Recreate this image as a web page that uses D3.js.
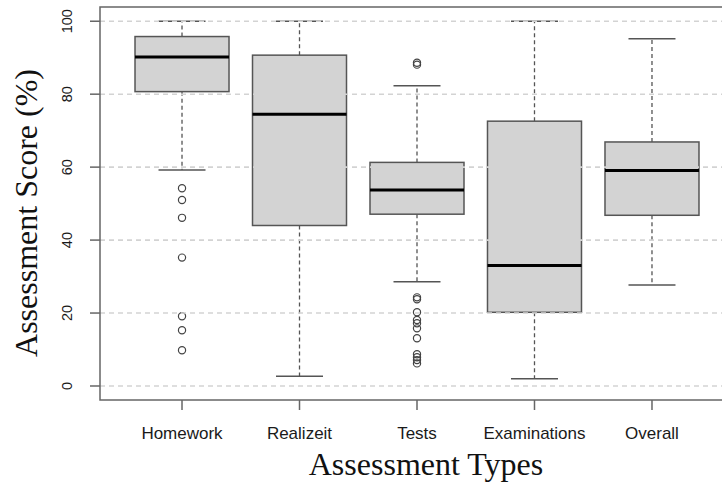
<!DOCTYPE html>
<html>
<head>
<meta charset="utf-8">
<script src="https://cdn.jsdelivr.net/npm/d3@7"></script>
<style>
  body { margin: 0; background: #fff; }
  svg { display: block; }
</style>
</head>
<body>
<div class="chart_box"></div>
<script>
//<data>------------------------------------//
var categories = ["Homework", "Realizeit", "Tests", "Examinations", "Overall"];
var lowerWhisker = [59.2, 2.7, 28.6, 2.0, 27.7];
var q1Values = [80.7, 44.0, 47.1, 20.2, 46.8];
var medianValues = [90.2, 74.5, 53.7, 33.0, 59.1];
var q3Values = [95.8, 90.7, 61.3, 72.6, 66.9];
var upperWhisker = [100, 100, 82.3, 100, 95.2];
var outlierValues = [
    [54.2, 51.0, 46.1, 35.2, 19.1, 15.3, 9.8],
    [],
    [88.1, 88.6, 24.3, 23.8, 20.2, 18.1, 17.2, 15.8, 13.1, 8.7, 7.9, 7.1, 6.2],
    [],
    []
];
var yTicks = [0, 20, 40, 60, 80, 100];

//<setMargin>-------------------------------//
var W = 722, H = 493;
var plot = { left: 100, top: 7, right: 734, bottom: 400 };

var svg = d3.select(".chart_box").append("svg")
    .attr("width", W).attr("height", H);

var x = d3.scalePoint()
    .domain(categories)
    .range([plot.left, plot.right])
    .padding(0.698);
var step = x.step();
var boxW = step * 0.8;

var y = d3.scaleLinear()
    .domain([-3.84, 103.9])
    .range([plot.bottom, plot.top]);

var data = categories.map(function (c, i) {
    return {
        name: c, lo: lowerWhisker[i], q1: q1Values[i], med: medianValues[i],
        q3: q3Values[i], hi: upperWhisker[i], out: outlierValues[i]
    };
});

var lineCol = "#555";

//DrawBoxes-----------------------------------------------//
var g = svg.append("g");
var box = g.selectAll(".bx").data(data).enter().append("g").attr("class", "bx");

// whiskers (dashed)
box.append("line")
    .attr("x1", function (d) { return x(d.name); })
    .attr("x2", function (d) { return x(d.name); })
    .attr("y1", function (d) { return y(d.q3); })
    .attr("y2", function (d) { return y(d.hi); })
    .attr("stroke", lineCol).attr("stroke-width", 1.3).attr("stroke-dasharray", "4,3");
box.append("line")
    .attr("x1", function (d) { return x(d.name); })
    .attr("x2", function (d) { return x(d.name); })
    .attr("y1", function (d) { return y(d.q1); })
    .attr("y2", function (d) { return y(d.lo); })
    .attr("stroke", lineCol).attr("stroke-width", 1.3).attr("stroke-dasharray", "4,3");
// caps
["hi", "lo"].forEach(function (k) {
    box.append("line")
        .attr("x1", function (d) { return x(d.name) - boxW / 4; })
        .attr("x2", function (d) { return x(d.name) + boxW / 4; })
        .attr("y1", function (d) { return y(d[k]); })
        .attr("y2", function (d) { return y(d[k]); })
        .attr("stroke", lineCol).attr("stroke-width", 1.5);
});
// box
box.append("rect")
    .attr("x", function (d) { return x(d.name) - boxW / 2; })
    .attr("width", boxW)
    .attr("y", function (d) { return y(d.q3); })
    .attr("height", function (d) { return y(d.q1) - y(d.q3); })
    .attr("fill", "#d3d3d3").attr("stroke", lineCol).attr("stroke-width", 1.5);
// median
box.append("line")
    .attr("x1", function (d) { return x(d.name) - boxW / 2; })
    .attr("x2", function (d) { return x(d.name) + boxW / 2; })
    .attr("y1", function (d) { return y(d.med); })
    .attr("y2", function (d) { return y(d.med); })
    .attr("stroke", "#000").attr("stroke-width", 3);
// outliers
box.each(function (d) {
    d3.select(this).selectAll("circle").data(d.out).enter().append("circle")
        .attr("cx", x(d.name))
        .attr("cy", function (v) { return y(v); })
        .attr("r", 3.6)
        .attr("fill", "none").attr("stroke", "#444").attr("stroke-width", 1.2);
});

//grid on top (light dashed)-------------------------------//
svg.append("g").selectAll("line").data(yTicks).enter().append("line")
    .attr("x1", plot.left).attr("x2", plot.right)
    .attr("y1", function (d) { return y(d); })
    .attr("y2", function (d) { return y(d); })
    .attr("stroke", "#d3d3d3").attr("stroke-width", 1.6).attr("stroke-dasharray", "5,4");

//frame------------------------------------------------------//
svg.append("rect")
    .attr("x", plot.left).attr("y", plot.top)
    .attr("width", plot.right - plot.left).attr("height", plot.bottom - plot.top)
    .attr("fill", "none").attr("stroke", "#666").attr("stroke-width", 1.5);

//y axis-----------------------------------------------------//
var yAxis = svg.append("g");
yAxis.selectAll("line").data(yTicks).enter().append("line")
    .attr("x1", plot.left - 10).attr("x2", plot.left)
    .attr("y1", function (d) { return y(d); })
    .attr("y2", function (d) { return y(d); })
    .attr("stroke", "#666").attr("stroke-width", 1.5);
yAxis.selectAll("text").data(yTicks).enter().append("text")
    .attr("transform", function (d) { return "translate(72," + y(d) + ") rotate(-90)"; })
    .attr("text-anchor", "middle")
    .style("font-family", "'Liberation Sans', Arial, sans-serif")
    .style("font-size", "14.5px")
    .attr("fill", "#1a1a1a")
    .text(function (d) { return d; });

//x axis-----------------------------------------------------//
var xAxis = svg.append("g");
xAxis.selectAll("line").data(categories).enter().append("line")
    .attr("x1", function (d) { return x(d); })
    .attr("x2", function (d) { return x(d); })
    .attr("y1", plot.bottom).attr("y2", plot.bottom + 10)
    .attr("stroke", "#666").attr("stroke-width", 1.5);
xAxis.selectAll("text").data(categories).enter().append("text")
    .attr("x", function (d) { return x(d); })
    .attr("y", 439)
    .attr("text-anchor", "middle")
    .style("font-family", "'Liberation Sans', Arial, sans-serif")
    .style("font-size", "17px")
    .attr("fill", "#1a1a1a")
    .text(function (d) { return d; });

//titles-----------------------------------------------------//
svg.append("text")
    .attr("x", 426).attr("y", 475)
    .attr("text-anchor", "middle")
    .style("font-family", "'Liberation Serif', 'Times New Roman', serif")
    .style("font-size", "32px")
    .attr("fill", "#111")
    .text("Assessment Types");
svg.append("text")
    .attr("transform", "translate(37,213) rotate(-90)")
    .attr("text-anchor", "middle")
    .style("font-family", "'Liberation Serif', 'Times New Roman', serif")
    .style("font-size", "32px")
    .attr("fill", "#111")
    .text("Assessment Score (%)");
</script>
</body>
</html>
